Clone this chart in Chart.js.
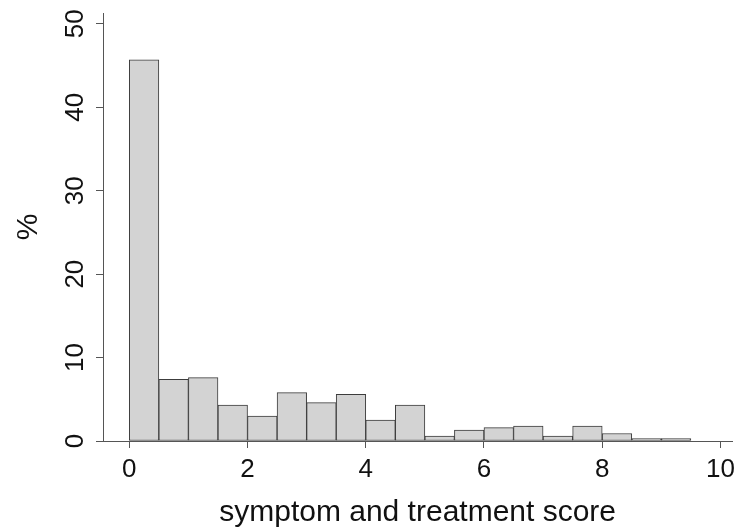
<!DOCTYPE html>
<html lang="en">
<head>
    <meta charset="UTF-8">
    <title>symptom and treatment score</title>
    <style>
        html, body { margin: 0; padding: 0; background: #fff; }
        #box { width: 741px; height: 527px; }
    </style>
</head>
<body>
    <div id="box">
        <canvas id="hist" width="741" height="527"></canvas>
    </div>

<script src="https://cdn.jsdelivr.net/npm/chart.js"></script>
<script>
    // bins of width 0.5, left edges
    const binStarts = [0, 0.5, 1, 1.5, 2, 2.5, 3, 3.5, 4, 4.5, 5, 5.5, 6, 6.5, 7, 7.5, 8, 8.5, 9];
    const binWidth = 0.5;
    // percentages
    const percent = [45.7, 7.4, 7.6, 4.3, 3.0, 5.8, 4.6, 5.6, 2.5, 4.3, 0.6, 1.3, 1.6, 1.8, 0.6, 1.8, 0.9, 0.3, 0.3];

    const xTicks = [0, 2, 4, 6, 8, 10];
    const yTicks = [0, 10, 20, 30, 40, 50];

    const xTitle = 'symptom and treatment score';
    const yTitle = '%';

    const axisColor = '#555';
    const textColor = '#111';
    const fontName = '"Liberation Sans", Arial, sans-serif';

    const points = binStarts.map((s, i) => ({ x: s + binWidth / 2, y: percent[i] }));

    // y labels (rotated, like R) and both axis titles
    const textPlugin = {
        id: 'rText',
        afterDraw(chart) {
            const ctx = chart.ctx;
            const ys = chart.scales.y;
            const area = chart.chartArea;
            ctx.save();
            ctx.fillStyle = textColor;

            ctx.font = '26px ' + fontName;
            ctx.textAlign = 'center';
            ctx.textBaseline = 'alphabetic';
            yTicks.forEach(v => {
                ctx.save();
                ctx.translate(83, ys.getPixelForValue(v));
                ctx.rotate(-Math.PI / 2);
                ctx.fillText(String(v), 0, 0);
                ctx.restore();
            });

            ctx.font = '30px ' + fontName;
            ctx.save();
            ctx.translate(37, (area.top + area.bottom) / 2);
            ctx.rotate(-Math.PI / 2);
            ctx.fillText(yTitle, 0, 0);
            ctx.restore();

            ctx.fillText(xTitle, (area.left + area.right) / 2, 521);
            ctx.restore();
        }
    };

    const ctx = document.getElementById('hist').getContext('2d');
    const hist = new Chart(ctx, {
        type: 'bar',
        data: {
            datasets: [{
                label: yTitle,
                data: points,
                backgroundColor: '#d3d3d3',
                borderColor: '#3c3c3c',
                borderWidth: 1,
                borderSkipped: false,
                barPercentage: 1,
                categoryPercentage: 1
            }]
        },
        options: {
            responsive: false,
            animation: false,
            devicePixelRatio: 1,
            layout: { padding: { top: 13, right: 6, left: 0, bottom: 0 } },
            plugins: {
                legend: { display: false },
                tooltip: { enabled: false }
            },
            scales: {
                x: {
                    type: 'linear',
                    min: -0.445,
                    max: 10.2,
                    offset: false,
                    grid: { offset: false, drawOnChartArea: false, drawTicks: true, tickLength: 7, color: axisColor },
                    border: { display: true, color: axisColor, width: 1 },
                    ticks: {
                        padding: 6,
                        color: textColor,
                        font: { size: 26, family: fontName },
                        maxRotation: 0,
                        minRotation: 0
                    },
                    afterBuildTicks: (scale) => { scale.ticks = xTicks.map(v => ({ value: v })); },
                    afterFit: (scale) => { scale.height = 86; }
                },
                y: {
                    type: 'linear',
                    min: 0,
                    max: 51.3,
                    grid: { drawOnChartArea: false, drawTicks: true, tickLength: 7, color: axisColor },
                    border: { display: true, color: axisColor, width: 1 },
                    ticks: { display: false },
                    afterBuildTicks: (scale) => { scale.ticks = yTicks.map(v => ({ value: v })); },
                    afterFit: (scale) => { scale.height = scale.height; scale.width = 103; }
                }
            }
        },
        plugins: [textPlugin]
    });
</script>
</body>
</html>
